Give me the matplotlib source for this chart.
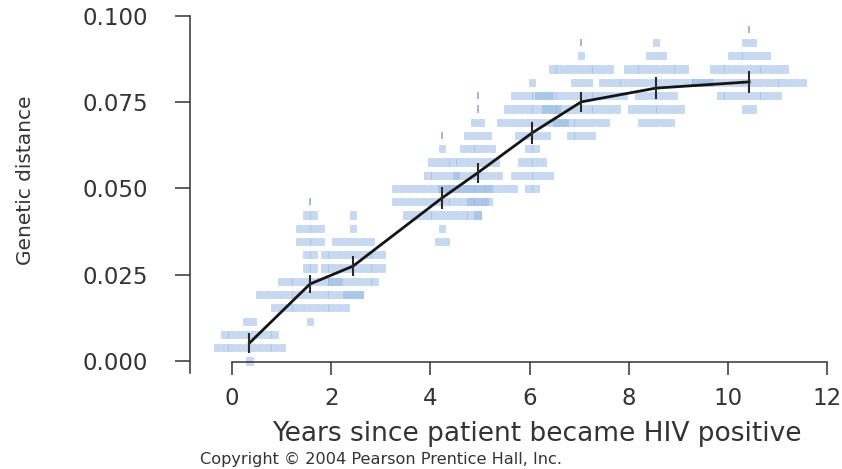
import matplotlib
matplotlib.use("Agg")
import matplotlib.pyplot as plt

plt.rcParams['font.family'] = ['DejaVu Sans']

# ---- data -------------------------------------------------------------
# sampling times (years since patient became HIV positive)
times = [0.35, 1.57, 2.44, 4.23, 4.95, 6.05, 7.04, 8.55, 10.43]
# mean genetic distance at each time and its error half-length
means = [0.0052, 0.0223, 0.0275, 0.0472, 0.0545, 0.0661, 0.0751, 0.0791, 0.0809]
errors = [0.0029, 0.0026, 0.0028, 0.0031, 0.0029, 0.0032, 0.0030, 0.0031, 0.0032]

# distances are counted in differences per 260 sites
sites = 260
# per sampling time: difference counts (rows) and number of sequences per row
row_diffs = [
    [0, 1, 2, 3],
    [3, 4, 5, 6, 7, 8, 9, 10, 11],
    [5, 6, 7, 8, 9, 10, 11],
    [9, 10, 11, 12, 13, 14, 15, 16],
    [11, 12, 13, 14, 15, 16, 17, 18],
    [13, 14, 15, 16, 17, 18, 19, 20, 21],
    [17, 18, 19, 20, 21, 22, 23],
    [18, 19, 20, 21, 22, 23, 24],
    [19, 20, 21, 22, 23, 24],
]
row_counts = [
    [1, 10, 8, 2],
    [1, 11, 15, 9, 2, 2, 4, 4, 2],
    [3, 7, 9, 9, 6, 1, 1],
    [2, 1, 11, 14, 14, 5, 4, 1],
    [1, 3, 11, 7, 6, 5, 4, 2],
    [2, 6, 4, 2, 5, 10, 8, 6, 1],
    [4, 8, 11, 13, 3, 9, 1],
    [5, 8, 6, 16, 9, 3, 1],
    [2, 9, 16, 11, 6, 2],
]
# single outlying sequences drawn as thin marks
thin_times = [1.57, 4.23, 4.95, 4.95, 7.04, 10.43]
thin_diffs = [12, 17, 19, 20, 24, 25]

xticks = [0, 2, 4, 6, 8, 10, 12]
yticks = [0.000, 0.025, 0.050, 0.075, 0.100]
ytick_labels = ["0.000", "0.025", "0.050", "0.075", "0.100"]

# ---- figure -------------------------------------------------------------
W, H = 842, 469
fig = plt.figure(figsize=(W / 100, H / 100), dpi=100)
ax = fig.add_axes([190 / W, (H - 373) / H, (832 - 190) / W, (373 - 14.3) / H])
ax.set_xlim(-0.85, 12.1)
ax.set_ylim(-0.0035, 0.1005)

step = 0.145      # horizontal space per sequence (years)
bw = 0.128        # drawn box width
bh = 0.0021       # drawn box height
box_color = "#8fb4e3"

xs, ys = [], []
for t, diffs, counts in zip(times, row_diffs, row_counts):
    for d, n in zip(diffs, counts):
        for i in range(n):
            xs.append(t + (i - (n - 1) / 2) * step)
            ys.append(d / sites)
ax.bar(xs, [bh] * len(xs), width=bw, bottom=[y - bh / 2 for y in ys],
       color=box_color, alpha=0.5, edgecolor="#86abdc", linewidth=0.4, zorder=2)

ax.bar(thin_times, [bh] * len(thin_times), width=0.04,
       bottom=[d / sites - bh / 2 for d in thin_diffs],
       color="#8a9fc0", alpha=0.75, linewidth=0, zorder=2)

ax.plot(times, means, color="#151515", linewidth=2.0, zorder=4)
ax.errorbar(times, means, yerr=errors, fmt="none", ecolor="#2a2a2a",
            elinewidth=1.5, capsize=0, zorder=4)

# ---- axes styling -------------------------------------------------------
for s in ("top", "right"):
    ax.spines[s].set_visible(False)
ax.spines["left"].set_bounds(-0.0035, 0.100)
ax.spines["bottom"].set_position(("data", -0.0003))
ax.spines["bottom"].set_bounds(0, 12)
for s in ("left", "bottom"):
    ax.spines[s].set_color("#333333")
    ax.spines[s].set_linewidth(1.1)

ax.set_xticks(xticks)
ax.set_xticklabels([str(v) for v in xticks])
ax.set_yticks(yticks)
ax.set_yticklabels(ytick_labels)
ax.tick_params(axis="y", length=11, width=1.1, pad=19, labelsize=16.5,
               color="#333333", labelcolor="#333333")
ax.tick_params(axis="x", length=9, width=1.1, pad=9, labelsize=16.5,
               color="#333333", labelcolor="#333333")

fig.text(537 / W, 1 - 434 / H, "Years since patient became HIV positive",
         ha="center", va="center", fontsize=19, color="#333333")
fig.text(200 / W, 1 - 459 / H, "Copyright \u00a9 2004 Pearson Prentice Hall, Inc.",
         ha="left", va="center", fontsize=11.6, color="#333333")
fig.text(26 / W, 1 - 180 / H, "Genetic distance", rotation=90,
         ha="center", va="center", fontsize=14.5, color="#333333")

fig.savefig("out.png", dpi=100)
